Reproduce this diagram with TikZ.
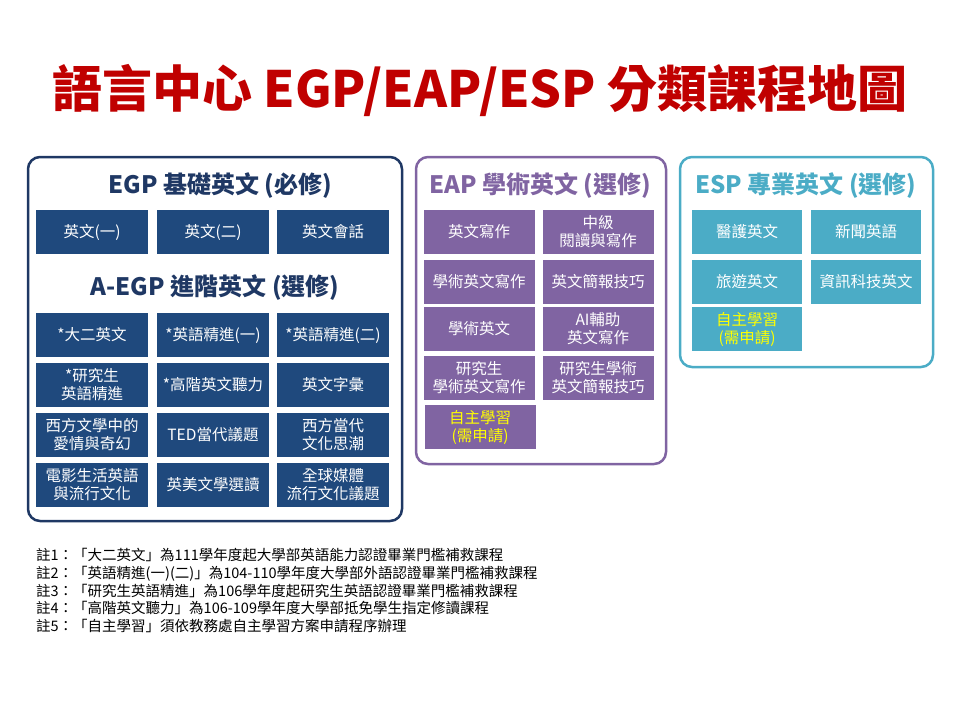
\documentclass[tikz,border=0pt]{standalone}
\usepackage{fontspec}
\setmainfont{Noto Sans CJK TC}
\usetikzlibrary{calc}

\definecolor{egpblue}{HTML}{1F3864}
\definecolor{egpcell}{HTML}{1F497D}
\definecolor{eappurple}{HTML}{8064A2}
\definecolor{espteal}{HTML}{4BACC6}
\definecolor{titlered}{HTML}{C00000}
\definecolor{selfyellow}{HTML}{FFFF00}

\begin{document}
\begin{tikzpicture}[x=1pt, y=-1pt]
    \tikzstyle{frame} = [rounded corners=12pt, line width=2.5pt]
    \tikzstyle{header} = [font=\fontsize{24}{28}\selectfont\bfseries]
    \tikzstyle{cell} = [rectangle, text=white, align=center, minimum height=44pt,
        inner sep=1pt, font=\fontsize{15.5}{18}\selectfont]
    \tikzstyle{egp} = [cell, fill=egpcell, minimum width=112pt]
    \tikzstyle{eap} = [cell, fill=eappurple, minimum width=111pt]
    \tikzstyle{esp} = [cell, fill=espteal, minimum width=110pt]
    \tikzstyle{self} = [text=selfyellow]

    \useasboundingbox (0,0) rectangle (960,720);

    % Title ----------------------------------------------
    \node (title) at (480, 90) [text=titlered, font=\fontsize{50}{56}\selectfont\bfseries]
        {語言中心 EGP/EAP/ESP 分類課程地圖};

    % EGP ------------------------------------------------
    \draw[frame, egpblue] (28, 157) rectangle (402, 521);
    \node (egp) at (220, 186) [header, text=egpblue] {EGP 基礎英文 (必修)};
    \node (E11) at (92, 232) [egp] {英文(一)};
    \node (E12) at (213, 232) [egp] {英文(二)};
    \node (E13) at (333, 232) [egp] {英文會話};

    \node (aegp) at (215, 288) [header, text=egpblue] {A-EGP 進階英文 (選修)};
    \node (A11) at (92, 335) [egp] {*大二英文};
    \node (A12) at (213, 335) [egp] {*英語精進(一)};
    \node (A13) at (333, 335) [egp] {*英語精進(二)};
    \node (A21) at (92, 385) [egp] {*研究生\\英語精進};
    \node (A22) at (213, 385) [egp] {*高階英文聽力};
    \node (A23) at (333, 385) [egp] {英文字彙};
    \node (A31) at (92, 435) [egp] {西方文學中的\\愛情與奇幻};
    \node (A32) at (213, 435) [egp] {TED當代議題};
    \node (A33) at (333, 435) [egp] {西方當代\\文化思潮};
    \node (A41) at (92, 485) [egp] {電影生活英語\\與流行文化};
    \node (A42) at (213, 485) [egp] {英美文學選讀};
    \node (A43) at (333, 485) [egp] {全球媒體\\流行文化議題};
    % ---------------------------------------------------

    % EAP ------------------------------------------------
    \draw[frame, eappurple] (416, 157) rectangle (666, 464);
    \node (eap) at (540, 186) [header, text=eappurple] {EAP 學術英文 (選修)};
    \node (P11) at (479, 232) [eap] {英文寫作};
    \node (P12) at (598, 232) [eap] {中級\\閱讀與寫作};
    \node (P21) at (479, 282) [eap] {學術英文寫作};
    \node (P22) at (598, 282) [eap] {英文簡報技巧};
    \node (P31) at (479, 329) [eap] {學術英文};
    \node (P32) at (598, 329) [eap] {AI輔助\\英文寫作};
    \node (P41) at (479, 378) [eap] {研究生\\學術英文寫作};
    \node (P42) at (598, 378) [eap] {研究生學術\\英文簡報技巧};
    \node (P51) at (480, 427) [eap, self] {自主學習\\(需申請)};
    % ---------------------------------------------------

    % ESP ------------------------------------------------
    \draw[frame, espteal] (680, 157) rectangle (933, 367);
    \node (esp) at (806, 186) [header, text=espteal] {ESP 專業英文 (選修)};
    \node (S11) at (747, 232) [esp] {醫護英文};
    \node (S12) at (866, 232) [esp] {新聞英語};
    \node (S21) at (747, 282) [esp] {旅遊英文};
    \node (S22) at (866, 282) [esp] {資訊科技英文};
    \node (S31) at (747, 329) [esp, self] {自主學習\\(需申請)};
    % ---------------------------------------------------

    % Notes
    \node (notes) at (36, 548) [anchor=north west, align=left, inner sep=0pt,
        font=\fontsize{14.5}{17.8}\selectfont]
        {註1：「大二英文」為111學年度起大學部英語能力認證畢業門檻補救課程\\
         註2：「英語精進(一)(二)」為104-110學年度大學部外語認證畢業門檻補救課程\\
         註3：「研究生英語精進」為106學年度起研究生英語認證畢業門檻補救課程\\
         註4：「高階英文聽力」為106-109學年度大學部抵免學生指定修讀課程\\
         註5：「自主學習」須依教務處自主學習方案申請程序辦理};
\end{tikzpicture}
\end{document}
